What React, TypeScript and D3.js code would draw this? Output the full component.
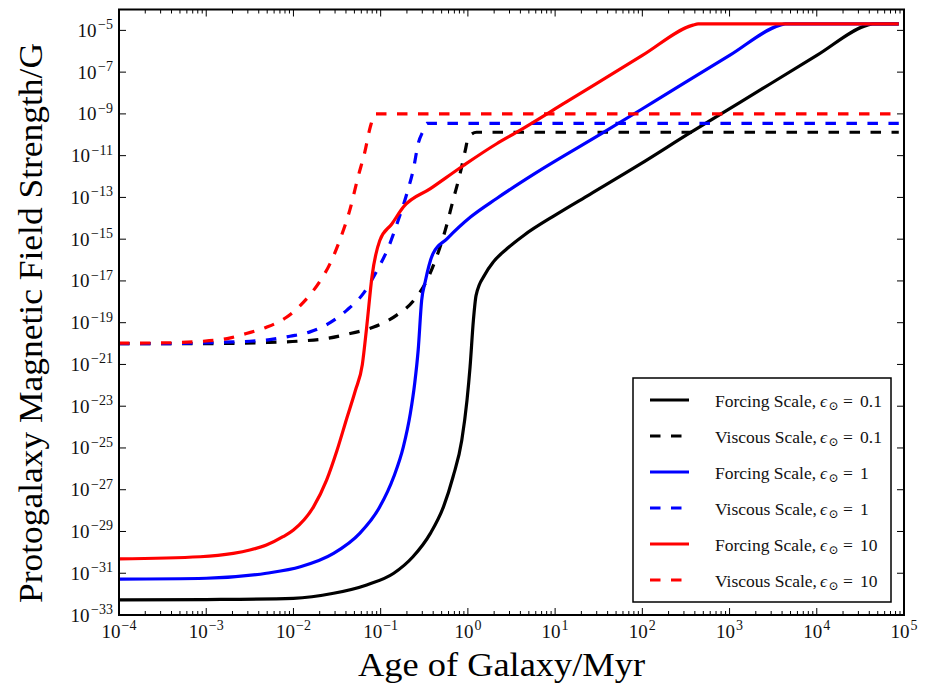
import React from "react";
import * as d3 from "d3";

const W = 926;
const H = 685;

// Tick exponents (decades)
const xTickExponents = [-4, -3, -2, -1, 0, 1, 2, 3, 4, 5];
const yTickExponents = [-33, -31, -29, -27, -25, -23, -21, -19, -17, -15, -13, -11, -9, -7, -5];

// Each point: [log10(age / Myr), log10(B / G)]
const forcingEps01: [number, number][] = [
  [-4, -32.28], [-3, -32.26], [-2.0, -32.2], [-1.54, -31.96], [-1.16, -31.56], [-0.85, -31.0],
  [-0.63, -30.21], [-0.43, -29.09], [-0.28, -27.82], [-0.17, -26.38], [-0.07, -24.63],
  [-0.01, -22.71], [0.025, -21.12], [0.063, -18.89], [0.094, -17.69], [0.197, -16.68],
  [0.29, -16.1], [0.45, -15.45], [0.64, -14.82], [1.02, -13.8], [1.4, -12.85], [1.97, -11.42],
  [2.55, -9.9], [3.12, -8.45], [4.0, -6.2], [4.58, -4.75], [4.64, -4.69], [4.94, -4.69],
];
const viscousEps01: [number, number][] = [
  [-4, -20.0], [-3.07, -20.0], [-2.31, -19.95], [-1.92, -19.88], [-1.62, -19.76], [-1.35, -19.52],
  [-1.08, -19.21], [-0.82, -18.65], [-0.62, -17.93], [-0.47, -16.97], [-0.36, -15.86],
  [-0.26, -14.58], [-0.17, -13.14], [-0.09, -11.87], [-0.03, -10.75], [0.006, -10.11],
  [0.1, -9.88], [4.94, -9.88],
];
const forcingEps1: [number, number][] = [
  [-4, -31.28], [-3, -31.24], [-2.31, -31.0], [-1.92, -30.69], [-1.54, -30.05], [-1.24, -29.09],
  [-1.01, -27.82], [-0.85, -26.38], [-0.74, -24.95], [-0.66, -23.35], [-0.61, -21.91],
  [-0.57, -20.32], [-0.53, -17.93], [-0.49, -17.05], [-0.4, -15.69], [-0.24, -14.98],
  [0.03, -13.94], [0.33, -13.05], [0.77, -11.85], [1.55, -9.9], [2.12, -8.45], [3.0, -6.2],
  [3.58, -4.75], [3.64, -4.69], [4.94, -4.69],
];
const viscousEps1: [number, number][] = [
  [-4, -20.0], [-3.45, -20.0], [-2.69, -19.92], [-2.5, -19.89], [-2.27, -19.81], [-2.04, -19.65],
  [-1.81, -19.44], [-1.58, -19.0], [-1.39, -18.41], [-1.2, -17.61], [-1.04, -16.49],
  [-0.91, -15.38], [-0.8, -14.11], [-0.7, -12.82], [-0.62, -11.55], [-0.57, -10.43],
  [-0.51, -9.79], [-0.47, -9.45], [4.94, -9.45],
];
const forcingEps10: [number, number][] = [
  [-4, -30.31], [-3.07, -30.21], [-2.69, -30.05], [-2.5, -29.89], [-2.31, -29.65], [-2.12, -29.25],
  [-2.0, -28.93], [-1.77, -27.82], [-1.62, -26.54], [-1.5, -25.11], [-1.39, -23.6],
  [-1.29, -22.25], [-1.21, -21.0], [-1.16, -19.2], [-1.1, -16.81],
  [-1.01, -15.06], [-0.87, -14.26], [-0.74, -13.46], [-0.43, -12.58], [-0.05, -11.47],
  [0.33, -10.43], [0.55, -9.9], [1.12, -8.45], [2.0, -6.2], [2.58, -4.75], [2.64, -4.69], [4.94, -4.69],
];
const viscousEps10: [number, number][] = [
  [-4, -19.98], [-3.53, -19.97], [-3.07, -19.9], [-2.76, -19.76], [-2.54, -19.52], [-2.31, -19.22],
  [-2.08, -18.74], [-1.92, -18.17], [-1.69, -16.97], [-1.58, -16.17], [-1.47, -15.06],
  [-1.35, -13.55], [-1.26, -12.03], [-1.18, -10.8], [-1.12, -9.64], [-1.06, -9.0], [4.94, -9.0],
];

const seriesNames = ["Forcing Scale", "Viscous Scale", "Forcing Scale", "Viscous Scale", "Forcing Scale", "Viscous Scale"];
const seriesEps = ["0.1", "0.1", "1", "1", "10", "10"];
const seriesColors = ["#000000", "#000000", "#0000ff", "#0000ff", "#ff0000", "#ff0000"];
const seriesDashed = [false, true, false, true, false, true];
const seriesData = [forcingEps01, viscousEps01, forcingEps1, viscousEps1, forcingEps10, viscousEps10];

const FONT = "'Liberation Serif', 'DejaVu Serif', serif";

export default function App() {
  const left = 119, right = 904, top = 9.5, bottom = 615;
  const x = d3.scaleLog().domain([1e-4, 1e5]).range([left, right]);
  const y = d3.scaleLog().domain([1e-33, 1e-4]).range([bottom, top]);

  const line = d3
    .line<[number, number]>()
    .x((d) => x(Math.pow(10, d[0])))
    .y((d) => y(Math.pow(10, d[1])))
    .curve(d3.curveMonotoneX);

  const majorLen = 7;
  const minorLen = 4;

  const xMinor: number[] = [];
  xTickExponents.slice(0, -1).forEach((e) => {
    for (let k = 2; k <= 9; k++) xMinor.push(k * Math.pow(10, e));
  });

  const dash = "10.5,10.5";

  return (
    <svg
      width={W}
      height={H}
      viewBox={`0 0 ${W} ${H}`}
      style={{ position: "absolute", left: 0, top: 0, background: "#fff" }}
      fontFamily={FONT}
    >
      <rect x={0} y={0} width={W} height={H} fill="#fff" />

      {/* curves */}
      <g fill="none" strokeLinejoin="round">
        {seriesData.map((d, i) => (
          <path
            key={i}
            d={line(d) || ""}
            stroke={seriesColors[i]}
            strokeWidth={3.2}
            strokeDasharray={seriesDashed[i] ? dash : undefined}
          />
        ))}
      </g>

      {/* ticks */}
      <g stroke="#000" strokeWidth={1}>
        {xTickExponents.map((e) => {
          const px = x(Math.pow(10, e));
          return (
            <g key={"xm" + e}>
              <line x1={px} x2={px} y1={bottom} y2={bottom - majorLen} />
              <line x1={px} x2={px} y1={top} y2={top + majorLen} />
            </g>
          );
        })}
        {xMinor.map((v, i) => {
          const px = x(v);
          return (
            <g key={"xn" + i}>
              <line x1={px} x2={px} y1={bottom} y2={bottom - minorLen} />
              <line x1={px} x2={px} y1={top} y2={top + minorLen} />
            </g>
          );
        })}
        {yTickExponents.map((e) => {
          const py = y(Math.pow(10, e));
          return (
            <g key={"ym" + e}>
              <line x1={left} x2={left + majorLen} y1={py} y2={py} />
              <line x1={right} x2={right - majorLen} y1={py} y2={py} />
            </g>
          );
        })}
      </g>

      {/* frame */}
      <rect x={left} y={top} width={right - left} height={bottom - top} fill="none" stroke="#000" strokeWidth={2} />

      {/* tick labels */}
      <g fill="#111">
        {xTickExponents.map((e) => (
          <text key={"xl" + e} x={x(Math.pow(10, e))} y={638} textAnchor="middle" fontSize={19}>
            10
            <tspan dx={1} dy={-8} fontSize={14}>
              {e < 0 ? "\u2212" + Math.abs(e) : String(e)}
            </tspan>
          </text>
        ))}
        {yTickExponents.map((e) => (
          <text key={"yl" + e} x={113} y={y(Math.pow(10, e)) + 6.5} textAnchor="end" fontSize={19}>
            10
            <tspan dx={1.5} dy={-7.5} fontSize={14}>
              {"\u2212" + Math.abs(e)}
            </tspan>
          </text>
        ))}
      </g>

      {/* axis titles */}
      <text x={358} y={676} fontSize={33} textLength={287} lengthAdjust="spacingAndGlyphs" fill="#000">
        Age of Galaxy/Myr
      </text>
      <text
        transform={`translate(42, 603) rotate(-90)`}
        x={0}
        y={0}
        fontSize={34}
        textLength={560}
        lengthAdjust="spacingAndGlyphs"
        fill="#000"
      >
        Protogalaxy Magnetic Field Strength/G
      </text>

      {/* legend */}
      <rect x={633} y={378} width={258} height={224} fill="#fff" stroke="#000" strokeWidth={1.5} />
      {seriesNames.map((name, i) => {
        const ry = 400 + i * 36;
        return (
          <g key={"lg" + i}>
            <line
              x1={650}
              x2={689}
              y1={ry}
              y2={ry}
              stroke={seriesColors[i]}
              strokeWidth={3.2}
              strokeDasharray={seriesDashed[i] ? dash : undefined}
            />
            <text x={715} y={ry + 6.5} fontSize={17.5} fill="#111">
              {name + ","}
              <tspan x={820} fontStyle="italic">
                {"\u03f5"}
              </tspan>
              <tspan x={828.5} dy={3.5} fontSize={12}>
                {"\u2299"}
              </tspan>
              <tspan x={843} dy={-3.5}>
                =
              </tspan>
              <tspan x={860}>{seriesEps[i]}</tspan>
            </text>
          </g>
        );
      })}
    </svg>
  );
}
